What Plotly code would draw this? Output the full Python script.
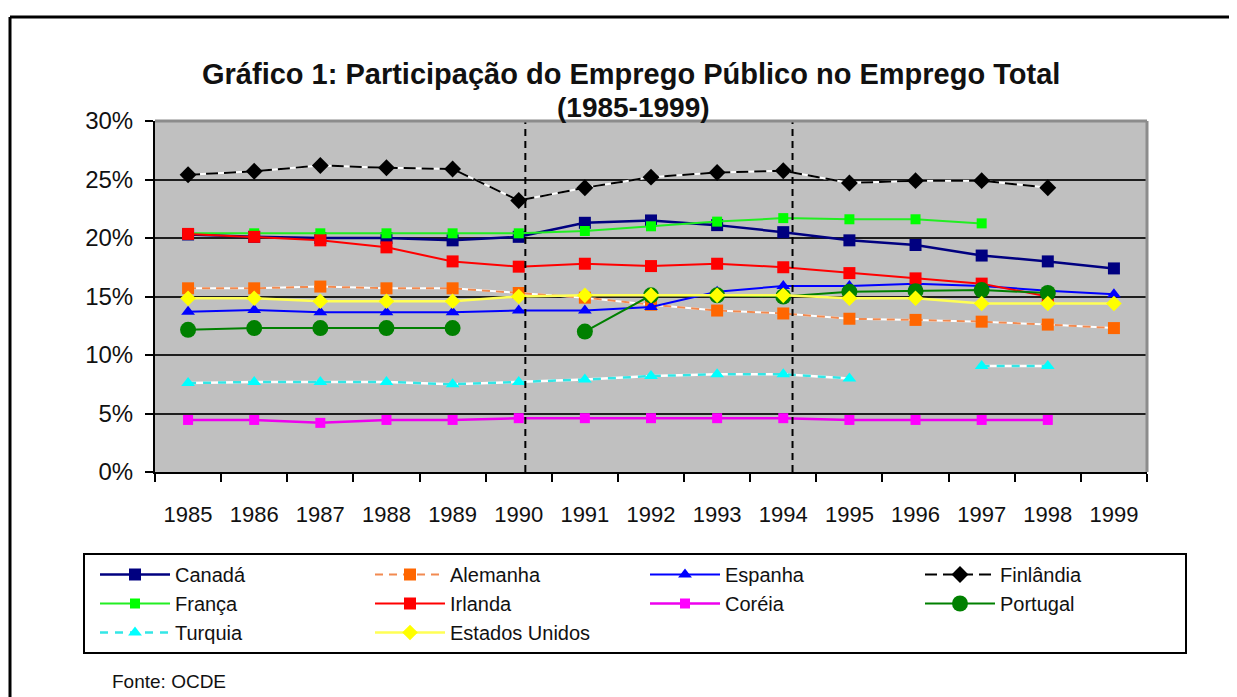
import plotly.graph_objects as go

years = [1985, 1986, 1987, 1988, 1989, 1990, 1991, 1992, 1993, 1994, 1995, 1996, 1997, 1998, 1999]
year_labels = ["1985", "1986", "1987", "1988", "1989", "1990", "1991", "1992", "1993", "1994",
               "1995", "1996", "1997", "1998", "1999"]
y_ticks = [0, 5, 10, 15, 20, 25, 30]
y_labels = ["0%", "5%", "10%", "15%", "20%", "25%", "30%"]

canada = [20.3, 20.1, 20.0, 20.0, 19.8, 20.1, 21.3, 21.5, 21.1, 20.5, 19.8, 19.4, 18.5, 18.0, 17.4]
alemanha = [15.7, 15.7, 15.85, 15.7, 15.7, 15.3, 14.9, 14.3, 13.8, 13.55, 13.1, 13.0, 12.85, 12.6, 12.3]
espanha = [13.7, 13.85, 13.65, 13.65, 13.65, 13.8, 13.8, 14.1, 15.4, 15.9, 15.9, 16.1, 15.9, 15.5, 15.2]
finlandia = [25.4, 25.7, 26.2, 26.0, 25.9, 23.2, 24.3, 25.2, 25.6, 25.75, 24.7, 24.9, 24.9, 24.3, None]
franca = [20.4, 20.4, 20.4, 20.4, 20.4, 20.4, 20.6, 21.0, 21.4, 21.7, 21.6, 21.6, 21.25, None, None]
irlanda = [20.35, 20.1, 19.8, 19.2, 18.0, 17.55, 17.8, 17.6, 17.8, 17.5, 17.0, 16.55, 16.1, 15.0, None]
coreia = [4.45, 4.45, 4.2, 4.45, 4.45, 4.6, 4.6, 4.6, 4.6, 4.6, 4.45, 4.45, 4.45, 4.45, None]
portugal = [12.15, 12.3, 12.3, 12.3, 12.3, None, 12.0, 15.1, 15.1, 15.0, 15.4, 15.45, 15.55, 15.3, None]
turquia = [7.6, 7.7, 7.7, 7.7, 7.5, 7.7, 7.9, 8.2, 8.35, 8.35, 8.0, None, 9.05, 9.05, None]
eua = [14.85, 14.85, 14.6, 14.6, 14.6, 15.0, 15.1, 15.1, 15.1, 15.1, 14.85, 14.85, 14.4, 14.4, 14.4]

FONT = "Liberation Sans, Arial, sans-serif"

# name, values, line color, marker color, symbol, size, dash, width
series = [
    ("Canadá", canada, "#000080", "#000080", "square", 12, "solid", 2.5),
    ("Alemanha", alemanha, "#F28A50", "#FF6600", "square", 12, "8px,6px", 2),
    ("Espanha", espanha, "#0000FF", "#0000FF", "triangle-up", 12, "solid", 2),
    ("Finlândia", finlandia, "#000000", "#000000", "diamond", 13, "12px,6px", 2),
    ("França", franca, "#22EE22", "#00FF00", "square", 10, "solid", 2),
    ("Irlanda", irlanda, "#FF0000", "#FF0000", "square", 12, "solid", 2),
    ("Coréia", coreia, "#EE00EE", "#FF00FF", "square", 10, "solid", 2.5),
    ("Portugal", portugal, "#008000", "#008000", "circle", 16, "solid", 2),
    ("Turquia", turquia, "#33E6E6", "#00FFFF", "triangle-up", 12, "8px,7px", 2.5),
    ("Estados Unidos", eua, "#FFFF55", "#FFFF00", "diamond", 12, "solid", 2.5),
]

fig = go.Figure()
for name, vals, lc, mc, sym, ms, dash, lw in series:
    if dash != "solid":
        fig.add_trace(go.Scatter(
            x=years, y=vals, mode="lines", showlegend=False, hoverinfo="skip",
            line=dict(color="#FFFFFF", width=lw), connectgaps=False))
    fig.add_trace(go.Scatter(
        x=years, y=vals, mode="lines+markers", name=name, connectgaps=False,
        line=dict(color=lc, width=lw, dash=dash),
        marker=dict(color=mc, symbol=sym, size=ms, line=dict(width=0)),
    ))


def px_x(px):
    # screen pixel -> paper x (plot area spans screen x 155..1147)
    return (px - 155) / 992


def px_y(py):
    # screen pixel -> paper y (plot area spans screen y 121..472)
    return (472 - py) / 351


shapes = []
for xv in (1990.1, 1994.14):
    shapes.append(dict(type="line", xref="x", yref="y", x0=xv, x1=xv, y0=0, y1=30,
                       line=dict(color="#000000", width=2, dash="7px,5px"), layer="above"))
shapes.append(dict(type="line", xref="paper", yref="paper", x0=0, x1=1, y0=1, y1=1,
                   line=dict(color="#8C8C8C", width=3), layer="above"))
shapes.append(dict(type="line", xref="paper", yref="paper", x0=1, x1=1, y0=0, y1=1,
                   line=dict(color="#8C8C8C", width=3), layer="above"))
shapes.append(dict(type="line", xref="paper", yref="paper", x0=px_x(10), x1=px_x(1300),
                   y0=px_y(17), y1=px_y(17), line=dict(color="#000000", width=3)))
shapes.append(dict(type="line", xref="paper", yref="paper", x0=px_x(10), x1=px_x(10),
                   y0=px_y(760), y1=px_y(17), line=dict(color="#000000", width=3)))

annotations = [
    dict(text="<b>Gráfico 1: Participação do Emprego Público no Emprego Total</b>",
         xref="paper", yref="paper", x=px_x(631), y=px_y(74),
         xanchor="center", yanchor="middle", showarrow=False,
         font=dict(family=FONT, size=29, color="#111111")),
    dict(text="<b>(1985-1999)</b>",
         xref="paper", yref="paper", x=px_x(633), y=px_y(107),
         xanchor="center", yanchor="middle", showarrow=False,
         font=dict(family=FONT, size=28, color="#111111")),
    dict(text="Fonte: OCDE", xref="paper", yref="paper", x=px_x(110), y=px_y(681),
         xanchor="left", yanchor="middle", showarrow=False,
         font=dict(family=FONT, size=19, color="#111111")),
]

fig.update_layout(
    width=1229, height=689,
    margin=dict(l=147, r=90, t=113, b=225),
    paper_bgcolor="#FFFFFF", plot_bgcolor="#C0C0C0",
    font=dict(family=FONT, color="#111111"),
    showlegend=True,
    legend=dict(
        orientation="h", x=px_x(83), y=px_y(553),
        xanchor="left", yanchor="top",
        bordercolor="#000000", borderwidth=2, bgcolor="#FFFFFF",
        font=dict(family=FONT, size=20, color="#111111"),
        indentation=10, itemwidth=70, entrywidth=180, entrywidthmode="pixels",
        traceorder="normal",
    ),
    shapes=shapes, annotations=annotations,
    xaxis=dict(
        range=[1984.5, 1999.5], tickmode="array", tickvals=years, ticktext=year_labels,
        ticks="", showgrid=False, zeroline=False,
        showline=True, linecolor="#000000", linewidth=2,
        tickfont=dict(family=FONT, size=22, color="#111111"),
        ticklabelstandoff=22,
        minor=dict(tickmode="linear", tick0=1984.5, dtick=1, ticks="outside",
                   ticklen=8, tickwidth=2, tickcolor="#000000", showgrid=False),
    ),
    yaxis=dict(
        range=[0, 30], tickmode="array", tickvals=y_ticks, ticktext=y_labels,
        ticks="outside", ticklen=8, tickwidth=2, tickcolor="#000000",
        showgrid=True, gridcolor="#1E1E1E", gridwidth=2, zeroline=False,
        showline=True, linecolor="#000000", linewidth=2,
        tickfont=dict(family=FONT, size=24, color="#111111"),
        ticklabelstandoff=7,
    ),
)

fig.write_html("out.html")
